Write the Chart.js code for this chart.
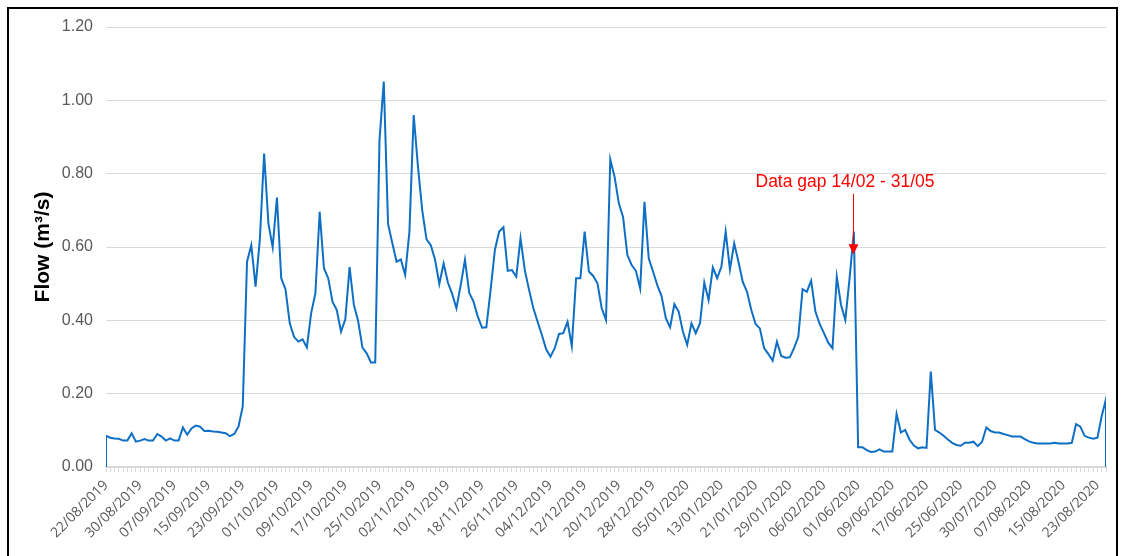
<!DOCTYPE html>
<html>
<head>
<meta charset="utf-8">
<script src="https://cdn.jsdelivr.net/npm/chart.js@4.4.0/dist/chart.umd.min.js"></script>
<style>
  html, body { margin: 0; padding: 0; background: #fff; overflow: hidden; }
  #wrap { position: relative; width: 1132px; height: 556px; }
  #frame { position: absolute; left: 7px; top: 7px; width: 1111px; height: 600px; border: 2px solid #000; box-sizing: border-box; pointer-events: none; }
  canvas { position: absolute; left: 0; top: 0; }
</style>
</head>
<body>
<div id="wrap">
  <canvas id="c" width="1132" height="556"></canvas>
  <div id="frame"></div>
</div>
<script>
// Recorded periods (dd/mm/yyyy, inclusive)
const periods = [
  ['22/08/2019', '13/02/2020'],
  ['01/06/2020', '30/06/2020'],
  ['28/07/2020', '25/08/2020']
];

// Daily mean flow, m3/s
const flowAutumn = [
  0.085, 0.080, 0.078, 0.077, 0.072, 0.072, 0.092, 0.069, 0.072, 0.076,
  0.072, 0.072, 0.090, 0.083, 0.072, 0.078, 0.072, 0.072, 0.108, 0.088,
  0.105, 0.113, 0.110, 0.098, 0.099, 0.097, 0.096, 0.094, 0.092, 0.084,
  0.090, 0.110, 0.165, 0.560, 0.605, 0.492, 0.620, 0.855, 0.665, 0.599,
  0.735, 0.515, 0.485, 0.392, 0.355, 0.342, 0.348, 0.326, 0.419, 0.474,
  0.696, 0.542, 0.515, 0.451, 0.428, 0.369, 0.403, 0.545, 0.442, 0.398,
  0.326, 0.310, 0.285, 0.285, 0.892, 1.051, 0.663, 0.610, 0.560, 0.566,
  0.524, 0.642, 0.960, 0.819, 0.700, 0.621, 0.605, 0.565, 0.499, 0.555,
  0.503, 0.472, 0.433, 0.496, 0.565, 0.475, 0.451, 0.410, 0.380, 0.381,
  0.483, 0.592, 0.642, 0.654, 0.535, 0.537, 0.519, 0.624, 0.537, 0.483,
  0.433, 0.396, 0.360, 0.321, 0.301, 0.324, 0.363, 0.365, 0.396, 0.330,
  0.515, 0.515, 0.642, 0.533, 0.521, 0.501, 0.433, 0.401, 0.839, 0.792,
  0.719, 0.681, 0.578, 0.551, 0.535, 0.487, 0.723, 0.569, 0.533, 0.496,
  0.466, 0.406, 0.381, 0.444, 0.424, 0.369, 0.333, 0.392, 0.365, 0.392,
  0.503, 0.455, 0.544, 0.515, 0.546, 0.642, 0.539, 0.610, 0.560, 0.505,
  0.478, 0.428, 0.390, 0.378, 0.324, 0.308, 0.290, 0.342, 0.303, 0.298,
  0.299, 0.324, 0.355, 0.485, 0.478, 0.508, 0.424, 0.390, 0.365, 0.339,
  0.324, 0.519, 0.442, 0.401, 0.515, 0.642
];
const flowJune = [
  0.054, 0.054, 0.046, 0.041, 0.042, 0.048, 0.042, 0.042, 0.042, 0.145,
  0.094, 0.101, 0.075, 0.059, 0.051, 0.054, 0.052, 0.260, 0.101, 0.094,
  0.085, 0.075, 0.066, 0.060, 0.058, 0.066, 0.066, 0.069, 0.057, 0.069
];
const flowAugust = [
  0.108, 0.098, 0.094, 0.094, 0.090, 0.087, 0.083, 0.083, 0.083, 0.076,
  0.070, 0.066, 0.064, 0.064, 0.064, 0.064, 0.066, 0.064, 0.064, 0.064,
  0.066, 0.117, 0.110, 0.085, 0.080, 0.077, 0.080, 0.139, 0.185
];

const yTicks = [0, 0.2, 0.4, 0.6, 0.8, 1.0, 1.2];
const labelEvery = 8;
const gapNote = 'Data gap 14/02 - 31/05';

// expand the periods into one label per day
function parseDate(s) { const [d, m, y] = s.split('/').map(Number); return new Date(Date.UTC(y, m - 1, d)); }
function fmt(dt) {
  const p = n => String(n).padStart(2, '0');
  return p(dt.getUTCDate()) + '/' + p(dt.getUTCMonth() + 1) + '/' + dt.getUTCFullYear();
}
const dates = [];
periods.forEach(([a, b]) => {
  for (let t = parseDate(a); t <= parseDate(b); t = new Date(t.getTime() + 86400000)) dates.push(fmt(t));
});
const flow = [...flowAutumn, ...flowJune, ...flowAugust];
const lastIdx = flow.length - 1;
const gapIdx = flowAutumn.length - 1;

// trace closes down to the axis at both ends
const trace = [{ x: 0, y: 0 }, ...flow.map((v, i) => ({ x: i, y: v })), { x: lastIdx, y: 0 }];

const gapArrow = {
  id: 'gapArrow',
  afterDatasetsDraw(chart) {
    const { ctx, scales: { x, y } } = chart;
    const ax = Math.round(x.getPixelForValue(gapIdx)) - 0.5;
    const yTop = y.getPixelForValue(0.745);
    const yTip = y.getPixelForValue(0.58);
    ctx.save();
    ctx.strokeStyle = '#ff0000';
    ctx.fillStyle = '#ff0000';
    ctx.lineWidth = 1;
    ctx.beginPath();
    ctx.moveTo(ax, yTop);
    ctx.lineTo(ax, yTip - 8);
    ctx.stroke();
    ctx.beginPath();
    ctx.moveTo(ax - 5, yTip - 10);
    ctx.lineTo(ax + 5, yTip - 10);
    ctx.lineTo(ax, yTip);
    ctx.closePath();
    ctx.fill();
    ctx.font = '17.5px "Liberation Sans", Arial, sans-serif';
    ctx.textAlign = 'left';
    ctx.textBaseline = 'alphabetic';
    ctx.fillText(gapNote, ax - 98, y.getPixelForValue(0.763));
    ctx.restore();
  }
};

new Chart(document.getElementById('c'), {
  type: 'line',
  data: {
    datasets: [{
      data: trace,
      borderColor: '#0e6fc4',
      borderWidth: 2,
      pointRadius: 0,
      tension: 0,
      fill: false
    }]
  },
  options: {
    responsive: false,
    animation: false,
    devicePixelRatio: 1,
    layout: { padding: { left: 0, right: 26, top: 27, bottom: 0 } },
    plugins: { legend: { display: false }, tooltip: { enabled: false } },
    scales: {
      x: {
        type: 'linear',
        min: 0,
        max: lastIdx,
        offset: false,
        afterFit(s) { s.height = 89; },
        afterBuildTicks(s) { s.ticks = dates.map((_, i) => ({ value: i })); },
        border: { display: true, color: '#d9d9d9', width: 2 },
        grid: { display: true, drawOnChartArea: false, drawTicks: true, tickLength: 5, color: '#d9d9d9', lineWidth: 1 },
        ticks: {
          autoSkip: false,
          minRotation: 45,
          maxRotation: 45,
          padding: 5,
          color: '#595959',
          font: { family: '"Open Sans", "Liberation Sans", sans-serif', size: 14 },
          callback: (v) => (v % labelEvery === 0 ? dates[v] : '')
        }
      },
      y: {
        min: 0,
        max: 1.2,
        afterFit(s) { s.width = 106; },
        afterBuildTicks(s) { s.ticks = yTicks.map(v => ({ value: v })); },
        border: { display: false },
        grid: { color: '#d9d9d9', lineWidth: 1, drawTicks: false },
        ticks: {
          padding: 13,
          color: '#595959',
          font: { family: '"Liberation Sans", Arial, sans-serif', size: 16 },
          callback: v => v.toFixed(2)
        },
        title: {
          display: true,
          text: 'Flow (m³/s)',
          color: '#000',
          font: { family: '"Liberation Sans", Arial, sans-serif', size: 21, weight: 'bold' },
          padding: { top: 31, bottom: 0 }
        }
      }
    }
  },
  plugins: [gapArrow]
});
</script>
</body>
</html>
